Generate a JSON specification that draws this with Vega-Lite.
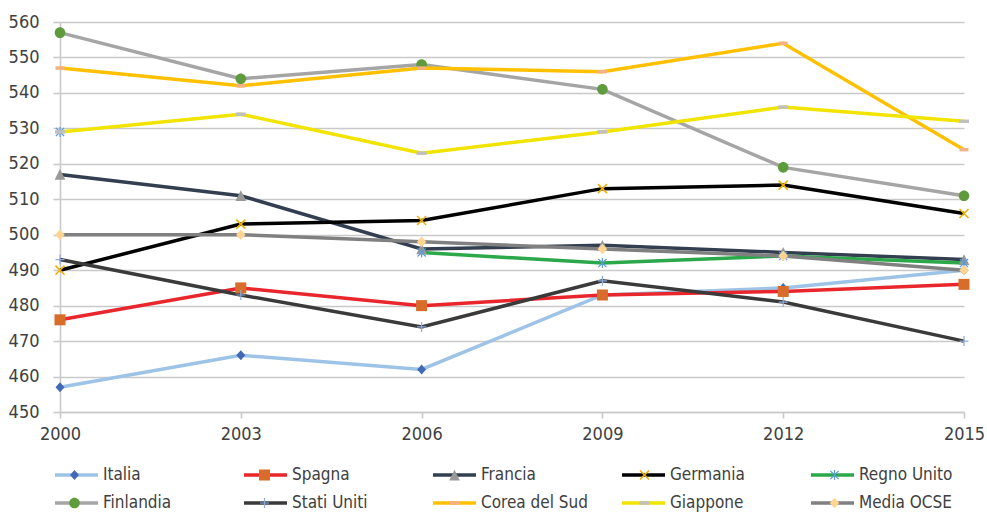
{
  "$schema": "https://vega.github.io/schema/vega-lite/v6.json",
  "width": 904,
  "height": 390,
  "autosize": {"type": "none"},
  "padding": {"left": 60, "top": 22, "right": 23, "bottom": 100},
  "background": "white",
  "config": {
    "view": {"stroke": null},
    "font": "DejaVu Sans Condensed",
    "axis": {
      "labelFont": "DejaVu Sans Condensed",
      "labelFontSize": 18,
      "labelColor": "#404040",
      "labelOverlap": false,
      "labelFlush": false,
      "title": null,
      "gridColor": "#C9C9C9",
      "gridWidth": 1.6,
      "domainColor": "#C9C9C9",
      "domainWidth": 1.6,
      "tickColor": "#C9C9C9",
      "tickWidth": 1.6,
      "tickSize": 7
    },
    "legend": {
      "labelFont": "DejaVu Sans Condensed",
      "labelFontSize": 17,
      "labelColor": "#404040",
      "symbolSize": 1849,
      "columns": 5,
      "direction": "horizontal",
      "gridAlign": "all",
      "rowPadding": 8,
      "labelOffset": 3,
      "clipHeight": 20,
      "padding": 0
    }
  },
  "data": {
    "values": [
      {"paese": "Italia", "anno": 2000, "punteggio": 457},
      {"paese": "Italia", "anno": 2003, "punteggio": 466},
      {"paese": "Italia", "anno": 2006, "punteggio": 462},
      {"paese": "Italia", "anno": 2009, "punteggio": 483},
      {"paese": "Italia", "anno": 2012, "punteggio": 485},
      {"paese": "Italia", "anno": 2015, "punteggio": 490},
      {"paese": "Spagna", "anno": 2000, "punteggio": 476},
      {"paese": "Spagna", "anno": 2003, "punteggio": 485},
      {"paese": "Spagna", "anno": 2006, "punteggio": 480},
      {"paese": "Spagna", "anno": 2009, "punteggio": 483},
      {"paese": "Spagna", "anno": 2012, "punteggio": 484},
      {"paese": "Spagna", "anno": 2015, "punteggio": 486},
      {"paese": "Francia", "anno": 2000, "punteggio": 517},
      {"paese": "Francia", "anno": 2003, "punteggio": 511},
      {"paese": "Francia", "anno": 2006, "punteggio": 496},
      {"paese": "Francia", "anno": 2009, "punteggio": 497},
      {"paese": "Francia", "anno": 2012, "punteggio": 495},
      {"paese": "Francia", "anno": 2015, "punteggio": 493},
      {"paese": "Germania", "anno": 2000, "punteggio": 490},
      {"paese": "Germania", "anno": 2003, "punteggio": 503},
      {"paese": "Germania", "anno": 2006, "punteggio": 504},
      {"paese": "Germania", "anno": 2009, "punteggio": 513},
      {"paese": "Germania", "anno": 2012, "punteggio": 514},
      {"paese": "Germania", "anno": 2015, "punteggio": 506},
      {"paese": "Regno Unito", "anno": 2000, "punteggio": 529},
      {"paese": "Regno Unito", "anno": 2003, "punteggio": null},
      {"paese": "Regno Unito", "anno": 2006, "punteggio": 495},
      {"paese": "Regno Unito", "anno": 2009, "punteggio": 492},
      {"paese": "Regno Unito", "anno": 2012, "punteggio": 494},
      {"paese": "Regno Unito", "anno": 2015, "punteggio": 492},
      {"paese": "Finlandia", "anno": 2000, "punteggio": 557},
      {"paese": "Finlandia", "anno": 2003, "punteggio": 544},
      {"paese": "Finlandia", "anno": 2006, "punteggio": 548},
      {"paese": "Finlandia", "anno": 2009, "punteggio": 541},
      {"paese": "Finlandia", "anno": 2012, "punteggio": 519},
      {"paese": "Finlandia", "anno": 2015, "punteggio": 511},
      {"paese": "Stati Uniti", "anno": 2000, "punteggio": 493},
      {"paese": "Stati Uniti", "anno": 2003, "punteggio": 483},
      {"paese": "Stati Uniti", "anno": 2006, "punteggio": 474},
      {"paese": "Stati Uniti", "anno": 2009, "punteggio": 487},
      {"paese": "Stati Uniti", "anno": 2012, "punteggio": 481},
      {"paese": "Stati Uniti", "anno": 2015, "punteggio": 470},
      {"paese": "Corea del Sud", "anno": 2000, "punteggio": 547},
      {"paese": "Corea del Sud", "anno": 2003, "punteggio": 542},
      {"paese": "Corea del Sud", "anno": 2006, "punteggio": 547},
      {"paese": "Corea del Sud", "anno": 2009, "punteggio": 546},
      {"paese": "Corea del Sud", "anno": 2012, "punteggio": 554},
      {"paese": "Corea del Sud", "anno": 2015, "punteggio": 524},
      {"paese": "Giappone", "anno": 2000, "punteggio": 529},
      {"paese": "Giappone", "anno": 2003, "punteggio": 534},
      {"paese": "Giappone", "anno": 2006, "punteggio": 523},
      {"paese": "Giappone", "anno": 2009, "punteggio": 529},
      {"paese": "Giappone", "anno": 2012, "punteggio": 536},
      {"paese": "Giappone", "anno": 2015, "punteggio": 532},
      {"paese": "Media OCSE", "anno": 2000, "punteggio": 500},
      {"paese": "Media OCSE", "anno": 2003, "punteggio": 500},
      {"paese": "Media OCSE", "anno": 2006, "punteggio": 498},
      {"paese": "Media OCSE", "anno": 2009, "punteggio": 496},
      {"paese": "Media OCSE", "anno": 2012, "punteggio": 494},
      {"paese": "Media OCSE", "anno": 2015, "punteggio": 490}
    ]
  },
  "layer": [
    {
      "mark": {"type": "line", "strokeWidth": 3.5, "invalid": "break-paths-show-domains"},
      "encoding": {
        "x": {
          "field": "anno", "type": "quantitative",
          "scale": {"domain": [2000, 2015], "nice": false, "zero": false},
          "axis": {"values": [2000, 2003, 2006, 2009, 2012, 2015], "tickCount": 20, "format": "d", "grid": false, "labelPadding": 7, "tickSize": 6}
        },
        "y": {
          "field": "punteggio", "type": "quantitative",
          "scale": {"domain": [450, 560], "nice": false, "zero": false},
          "axis": {"values": [450, 460, 470, 480, 490, 500, 510, 520, 530, 540, 550, 560], "tickCount": 20, "labelPadding": 14, "grid": true}
        },
        "color": {
          "field": "paese", "type": "nominal",
          "sort": ["Italia", "Spagna", "Francia", "Germania", "Regno Unito", "Finlandia", "Stati Uniti", "Corea del Sud", "Giappone", "Media OCSE"],
          "scale": {"range": ["#9DC3E6", "#E8262B", "#333F50", "#000000", "#2BA84A", "#A5A5A5", "#3A3A3A", "#FFC000", "#F1E400", "#808080"]},
          "legend": {
            "title": null, "orient": "none", "legendX": -7, "legendY": 443, "columnPadding": 32,
            "symbolType": "M-1,0H1", "symbolStrokeWidth": 3.5
          }
        }
      }
    },
    {
      "mark": {"type": "point", "filled": true, "opacity": 1, "size": 1849, "strokeWidth": 0},
      "encoding": {
        "x": {"field": "anno", "type": "quantitative"},
        "y": {"field": "punteggio", "type": "quantitative"},
        "fill": {
          "field": "paese", "type": "nominal",
          "scale": {
            "domain": ["Italia", "Spagna", "Francia", "Germania", "Regno Unito", "Finlandia", "Stati Uniti", "Corea del Sud", "Giappone", "Media OCSE"],
            "range": ["#4169B5", "#D86C2A", "#999999", "#F0B000", "#5B9BD5", "#5E9B3C", "#8FAADC", "#F4B183", "#C0C0C0", "#FFD591"]
          },
          "legend": {"title": null, "orient": "none", "legendX": -7, "legendY": 443, "columnPadding": 144, "labelExpr": "''", "symbolStrokeWidth": 0}
        },
        "shape": {
          "field": "paese", "type": "nominal",
          "scale": {
            "domain": ["Italia", "Spagna", "Francia", "Germania", "Regno Unito", "Finlandia", "Stati Uniti", "Corea del Sud", "Giappone", "Media OCSE"],
            "range": [
              "M0,-0.233L0.209,0L0,0.233L-0.209,0Z",
              "M-0.256,-0.256H0.256V0.256H-0.256Z",
              "M0,-0.25L0.25,0.25L-0.25,0.25Z",
              "M-0.184,-0.236L0.236,0.184L0.184,0.236L-0.236,-0.184ZM-0.184,0.236L-0.236,0.184L0.184,-0.236L0.236,-0.184Z",
              "M-0.17,-0.21L0.21,0.17L0.17,0.21L-0.21,-0.17ZM-0.17,0.21L-0.21,0.17L0.17,-0.21L0.21,-0.17ZM-0.028,-0.233H0.028V0.233H-0.028Z",
              "M-0.247,0A0.247,0.247,0,1,0,0.247,0A0.247,0.247,0,1,0,-0.247,0Z",
              "M-0.21,-0.028H0.21V0.028H-0.21ZM-0.028,-0.233H0.028V0.233H-0.028Z",
              "M-0.21,-0.081H0.21V0.081H-0.21Z",
              "M-0.233,-0.081H0.233V0.081H-0.233Z",
              "M0,-0.245L0.22,0L0,0.245L-0.22,0Z"
            ]
          },
          "legend": {"title": null, "orient": "none", "legendX": -7, "legendY": 443, "columnPadding": 144, "labelExpr": "''", "symbolStrokeWidth": 0}
        }
      }
    }
  ]
}
